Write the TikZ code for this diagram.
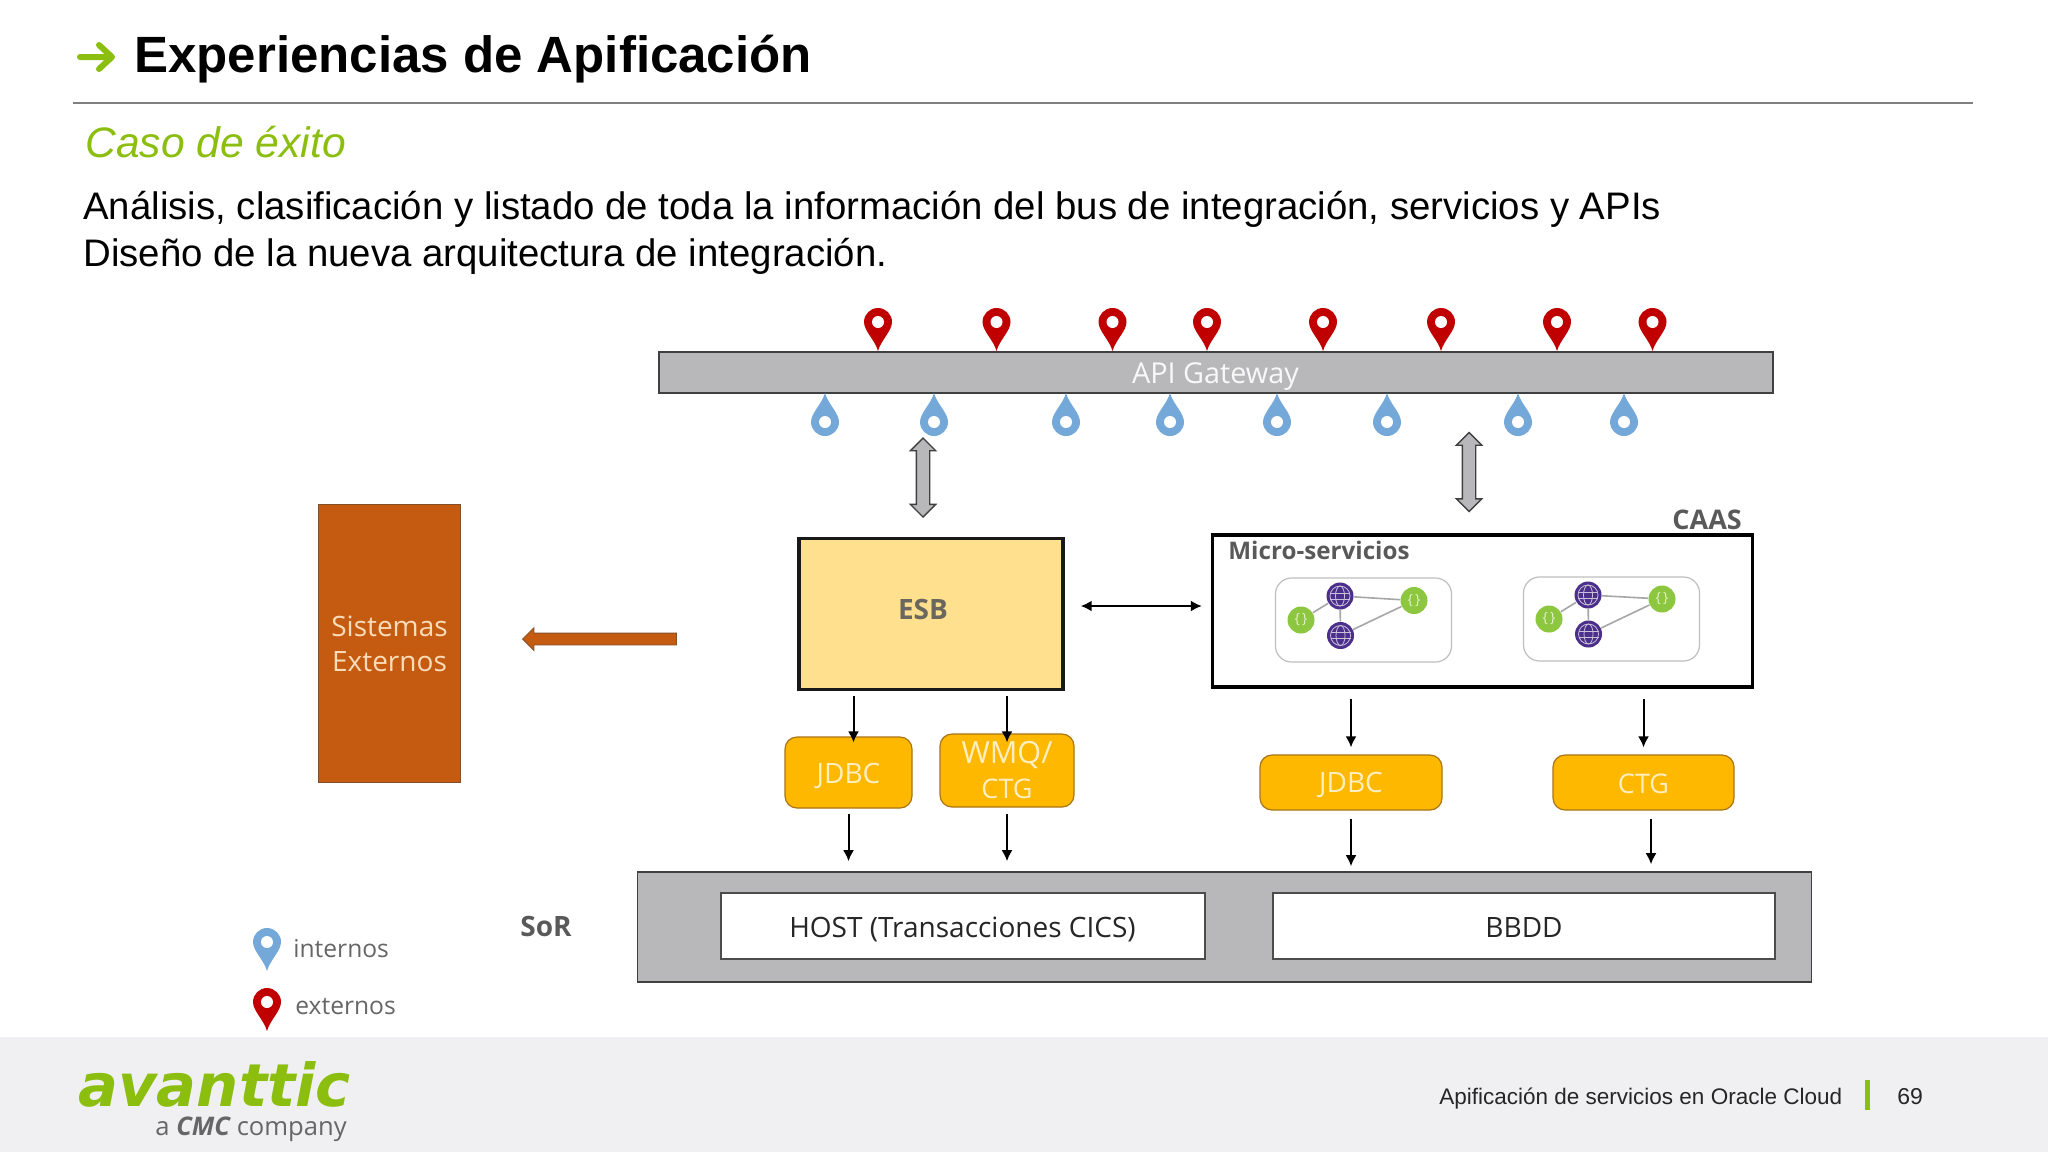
\documentclass[tikz,border=0pt]{standalone}
\usepackage{fontspec}
\setmainfont{Liberation Sans}
\newfontfamily\diagfont{Open Sans}
\newfontfamily\logofont{DejaVu Sans}
\usetikzlibrary{arrows.meta,shapes.arrows,positioning}
\definecolor{brandGreen}{RGB}{139,190,14}
\definecolor{ruleGray}{RGB}{127,127,127}
\definecolor{footerGray}{RGB}{240,240,242}
\definecolor{barGray}{RGB}{184,184,186}
\definecolor{esbColor}{RGB}{255,224,143}
\definecolor{adapterColor}{RGB}{255,184,0}
\definecolor{adapterEdge}{RGB}{170,115,20}
\definecolor{externColor}{RGB}{197,90,17}
\definecolor{externEdge}{RGB}{130,80,40}
\definecolor{externText}{RGB}{250,220,185}
\definecolor{pinRed}{RGB}{192,0,0}
\definecolor{pinBlue}{RGB}{115,168,216}
\definecolor{labelGray}{RGB}{89,89,89}
\definecolor{softWhite}{RGB}{255,238,190}
\definecolor{serviceGreen}{RGB}{141,198,63}
\definecolor{servicePurple}{RGB}{75,47,138}
\newcommand{\droptext}[2]{\raisebox{-#1}[0pt][0pt]{#2}}
\tikzset{textlabel/.style={inner sep=0pt, anchor=base west}}
\tikzset{boxlabel/.style={inner sep=0pt, font=\diagfont\fontsize{13.5pt}{17.5pt}\selectfont, align=center}}
\tikzset{adapter/.style={boxlabel, fill=adapterColor, draw=adapterEdge, line width=.6pt, rounded corners=6pt, text=softWhite}}
\tikzset{whitebox/.style={boxlabel, font=\diagfont\fontsize{14pt}{14pt}\selectfont, fill=white, draw=black!70, line width=1pt, minimum width=#1, minimum height=33pt, text=black!85}}
\tikzset{servicebox/.style={draw=black!25, line width=.6pt, rounded corners=8pt, fill=white, minimum width=88pt, minimum height=42pt, inner sep=0pt}}
\tikzset{greennode/.style={circle, fill=serviceGreen, minimum size=13.5pt, inner sep=0pt, text=white!75!serviceGreen, font=\diagfont\fontsize{7pt}{7pt}\selectfont}}
\tikzset{purplenode/.style={circle, fill=servicePurple, minimum size=13.5pt, inner sep=0pt, path picture={
	\draw [white!70!servicePurple, line width=.4pt] (path picture bounding box.center) circle [radius=10];
	\draw [white!70!servicePurple, line width=.4pt] (path picture bounding box.center) ellipse [x radius=4.5, y radius=10];
	\draw [white!70!servicePurple, line width=.4pt] ([yshift=1.5pt]path picture bounding box.center) ++(-10,0) -- ++(20,0);
	\draw [white!70!servicePurple, line width=.4pt] ([yshift=-1.5pt]path picture bounding box.center) ++(-10,0) -- ++(20,0);}}}
\tikzset{serviceline/.style={draw=black!35, line width=.8pt}}
\tikzset{blockarrow/.style={double arrow, double arrow head extend=3pt, shape border rotate=90, inner sep=3pt, minimum width=12pt, fill=barGray, draw=black!75, line width=.7pt}}
\tikzset{pinmark/.pic={
	\fill [#1] (0,0) .. controls (-3,-11) and (-14,-20) .. (-14,-29) arc [start angle=180, end angle=360, radius=14] .. controls (14,-20) and (3,-11) .. (0,0) -- cycle;
	\fill [white] (0,-29) circle [radius=6];}}
\tikzstyle{arrow} = [-{Latex[length=5.5pt,width=5.5pt]}, line width=1pt]

\begin{document}
\begin{tikzpicture}[x=0.5pt, y=-0.5pt]
	\useasboundingbox (0,0) rectangle (2048,1152);
	\fill [white] (0,0) rectangle (2048,1152);
	\fill [footerGray] (0,1037) rectangle (2048,1152);
	% Header
	\draw [brandGreen, line width=3pt, line cap=round, line join=round] (80,57) -- (111,57) (99,45) -- (112,57) -- (99,69);
	\draw [ruleGray, line width=1pt] (73,103) -- (1973,103);
	\node (title) [textlabel] at (134,72) {\fontsize{25.5pt}{25.5pt}\selectfont\bfseries Experiencias de Apificación};
	\node (subtitle) [textlabel, text=brandGreen] at (85,157) {\fontsize{21.3pt}{21.3pt}\selectfont\itshape Caso de éxito};
	\node (bodyOne) [textlabel] at (83,219) {\fontsize{19.18pt}{19.18pt}\selectfont Análisis, clasificación y listado de toda la información del bus de integración, servicios y APIs};
	\node (bodyTwo) [textlabel] at (83,266) {\fontsize{19.18pt}{19.18pt}\selectfont Diseño de la nueva arquitectura de integración.};

	% Nodes
	\node (gateway) [boxlabel, fill=barGray, draw=black!75, line width=1pt, minimum width=557pt, minimum height=20.5pt, text=white!90!barGray, font=\diagfont\fontsize{14.4pt}{14.4pt}\selectfont] at (1215.5,372) {\droptext{5.8pt}{API Gateway}};
	\foreach \x in {878,996.5,1112.5,1207,1323,1441,1557,1652.5}
		\pic at (\x,351) {pinmark=pinRed};
	\foreach \x in {825,934,1066,1170,1277,1387,1518,1624}
		\pic [rotate=180] at (\x,393) {pinmark=pinBlue};
	\node (gatewayEsb) [blockarrow, minimum height=39.5pt] at (923,477.5) {};
	\node (gatewayCaas) [blockarrow, minimum height=39.5pt] at (1469,472) {};
	\node (externos) [boxlabel, fill=externColor, draw=externEdge, line width=.5pt, minimum width=71pt, minimum height=139pt, text=externText, font=\diagfont\fontsize{14pt}{17.5pt}\selectfont] at (389.5,643.5) {Sistemas\\Externos};
	\node (externArrow) [single arrow, single arrow head extend=2.75pt, shape border rotate=180, inner sep=2.75pt, minimum width=11pt, minimum height=77pt, fill=externColor, draw=externEdge, line width=.4pt] at (602.5,639) {};
	\node (esb) [fill=esbColor, draw=black!90, line width=1.7pt, minimum width=132pt, minimum height=75.5pt, inner sep=0pt] at (931,614) {};
	\node (esbLabel) [boxlabel, text=labelGray!90!esbColor, font=\diagfont\bfseries\fontsize{14pt}{14pt}\selectfont] at (923,609) {ESB};
	\node (micro) [draw=black, line width=1.7pt, fill=white, minimum width=270pt, minimum height=76pt, inner sep=0pt] at (1482.5,611) {};
	\node (caasLabel) [textlabel, text=labelGray, font=\diagfont\bfseries\fontsize{13.5pt}{13.5pt}\selectfont] at (1672,529) {CAAS};
	\node (microLabel) [textlabel, text=labelGray, font=\diagfont\bfseries\fontsize{12.1pt}{12.1pt}\selectfont] at (1228,559) {Micro-servicios};
	\node (serviceOne) [servicebox] at (1363.5,620) {};
	\node (serviceTwo) [servicebox] at (1611.5,619) {};
	\node (greenLeftOne) [greennode] at (1301,620) {\{\,\}};
	\node (greenRightOne) [greennode] at (1414,600.5) {\{\,\}};
	\node (purpleTopOne) [purplenode] at (1340,596) {};
	\node (purpleLowOne) [purplenode] at (1340.5,635.5) {};
	\node (greenLeftTwo) [greennode] at (1549,619) {\{\,\}};
	\node (greenRightTwo) [greennode] at (1662,599) {\{\,\}};
	\node (purpleTopTwo) [purplenode] at (1588,595) {};
	\node (purpleLowTwo) [purplenode] at (1588.5,634) {};
	\node (jdbcEsb) [adapter, minimum width=63.5pt, minimum height=35.5pt, font=\diagfont\fontsize{14pt}{14pt}\selectfont] at (848.5,772.5) {\droptext{5.4pt}{JDBC}};
	\node (wmq) [adapter, minimum width=67pt, minimum height=36.5pt] at (1007,770.5) {{\fontsize{15.3pt}{17.5pt}\selectfont WMQ/}\\CTG};
	\node (jdbcCaas) [adapter, minimum width=91pt, minimum height=27.5pt, font=\diagfont\fontsize{14pt}{14pt}\selectfont] at (1351,782.5) {\droptext{5.2pt}{JDBC}};
	\node (ctg) [adapter, minimum width=90.5pt, minimum height=27.5pt] at (1643.5,782.5) {\droptext{5.5pt}{CTG}};
	\node (sor) [fill=barGray, draw=black!75, line width=.8pt, minimum width=587pt, minimum height=55pt, inner sep=0pt] at (1224.5,927) {};
	\node (host) [whitebox=242pt] at (962.5,926) {\droptext{5.6pt}{HOST (Transacciones CICS)}};
	\node (bbdd) [whitebox=251pt] at (1524,926) {\droptext{5.6pt}{BBDD}};
	\node (sorLabel) [textlabel, text=labelGray, font=\diagfont\bfseries\fontsize{14pt}{14pt}\selectfont] at (520,936) {SoR};
	% Legend
	\pic at (267,971) {pinmark=pinBlue};
	\pic at (267,1031) {pinmark=pinRed};
	\node (internosLabel) [textlabel, text=black!60, font=\diagfont\fontsize{12.3pt}{12.3pt}\selectfont] at (293,957) {internos};
	\node (externosLabel) [textlabel, text=black!60, font=\diagfont\fontsize{12.3pt}{12.3pt}\selectfont] at (295,1014) {externos};
	% Footer
	\node (logo) [textlabel, text=brandGreen, font=\logofont\bfseries\itshape\fontsize{29.6pt}{29.6pt}\selectfont] at (78,1106) {avanttic};
	\node (company) [textlabel, text=black!60, font=\diagfont\fontsize{12.8pt}{12.8pt}\selectfont] at (155,1135) {a {\bfseries\itshape CMC} company};
	\node (footerText) [textlabel, text=black!85, font=\fontsize{11.25pt}{11.25pt}\selectfont] at (1439,1104) {Apificación de servicios en Oracle Cloud};
	\fill [brandGreen] (1865,1080) rectangle (1870,1110);
	\node (pageNumber) [textlabel, text=black!85, font=\fontsize{11.5pt}{11.5pt}\selectfont] at (1897,1104) {69};

	% Connectors
	\begin{scope}[serviceline]
		\draw (greenLeftOne) -- (purpleTopOne);
		\draw (purpleTopOne) -- (purpleLowOne);
		\draw (purpleTopOne) -- (greenRightOne);
		\draw (purpleLowOne) -- (greenRightOne);
		\draw (greenLeftTwo) -- (purpleTopTwo);
		\draw (purpleTopTwo) -- (purpleLowTwo);
		\draw (purpleTopTwo) -- (greenRightTwo);
		\draw (purpleLowTwo) -- (greenRightTwo);
	\end{scope}
	\coordinate (esbExit) at ([yshift=4pt]esb.east);
	\draw [arrow, {Latex[length=5.5pt,width=5.5pt]}-{Latex[length=5.5pt,width=5.5pt]}, shorten <=8pt, shorten >=4.5pt] (esbExit) -- (esbExit -| micro.west);
	\coordinate (jdbcEsbTop) at ([xshift=2.5pt]jdbcEsb.north);
	\draw [arrow, shorten <=2.5pt, shorten >=-3pt] (jdbcEsbTop |- esb.south) -- (jdbcEsbTop);
	\draw [arrow, shorten <=2.5pt, shorten >=-4.5pt] (wmq.north |- esb.south) -- (wmq.north);
	\draw [arrow, shorten <=5pt, shorten >=3.5pt] (jdbcCaas.north |- micro.south) -- (jdbcCaas.north);
	\draw [arrow, shorten <=5pt, shorten >=3.5pt] (ctg.north |- micro.south) -- (ctg.north);
	\draw [arrow, shorten <=2.5pt, shorten >=5pt] (jdbcEsb.south) -- (jdbcEsb.south |- sor.north);
	\draw [arrow, shorten <=3pt, shorten >=5pt] (wmq.south) -- (wmq.south |- sor.north);
	\draw [arrow, shorten <=4pt, shorten >=2.5pt] (jdbcCaas.south) -- (jdbcCaas.south |- sor.north);
	\coordinate (ctgBottom) at ([xshift=3.75pt]ctg.south);
	\draw [arrow, shorten <=4pt, shorten >=3.5pt] (ctgBottom) -- (ctgBottom |- sor.north);
\end{tikzpicture}
\end{document}
